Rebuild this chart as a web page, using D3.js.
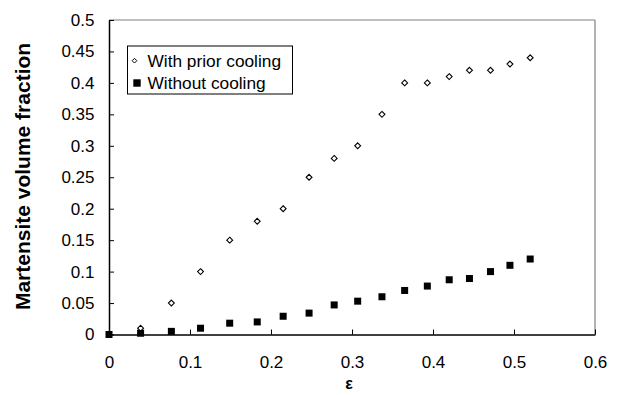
<!DOCTYPE html>
<html>
<head>
<meta charset="utf-8">
<script src="https://cdn.jsdelivr.net/npm/d3@7"></script>
<style>
  html, body { margin: 0; padding: 0; background: #fff; }
  svg { display: block; font-family: "Liberation Sans", Arial, Helvetica, sans-serif; }
</style>
</head>
<body>
<svg id="chart" width="620" height="395"></svg>
<script>
// ---- data ----
const strain = [0, 0.039, 0.077, 0.113, 0.149, 0.183, 0.215, 0.247, 0.278, 0.307, 0.337, 0.365, 0.393, 0.42, 0.445, 0.471, 0.495, 0.52];
const withPriorCooling = [0, 0.01, 0.05, 0.10, 0.15, 0.18, 0.20, 0.25, 0.28, 0.30, 0.35, 0.40, 0.40, 0.41, 0.42, 0.42, 0.43, 0.44];
const withoutCooling = [0, 0.002, 0.005, 0.01, 0.018, 0.02, 0.029, 0.034, 0.047, 0.053, 0.06, 0.07, 0.077, 0.087, 0.089, 0.10, 0.11, 0.12];
const xTicks = [0, 0.1, 0.2, 0.3, 0.4, 0.5, 0.6];
const yTicks = [0, 0.05, 0.1, 0.15, 0.2, 0.25, 0.3, 0.35, 0.4, 0.45, 0.5];
const seriesNames = ["With prior cooling", "Without cooling"];

// ---- layout ----
const svg = d3.select("#chart");
const m = { left: 109, top: 20, right: 595, bottom: 334.5 };
const x = d3.scaleLinear().domain([0, 0.6]).range([m.left, m.right]);
const y = d3.scaleLinear().domain([0, 0.5]).range([m.bottom, m.top]);

// frame: top & right grey
svg.append("line").attr("x1", m.left).attr("x2", m.right).attr("y1", m.top).attr("y2", m.top)
  .attr("stroke", "#808080").attr("stroke-width", 1.2);
svg.append("line").attr("x1", m.right).attr("x2", m.right).attr("y1", m.top).attr("y2", m.bottom)
  .attr("stroke", "#808080").attr("stroke-width", 1.2);

// axes
const fmt = d => d === 0 ? "0" : String(+d.toFixed(2));
const xAxis = svg.append("g").attr("transform", `translate(0,${m.bottom})`)
  .call(d3.axisBottom(x).tickValues(xTicks).tickFormat(fmt).tickSizeInner(-5).tickSizeOuter(0).tickPadding(21.5));
const yAxis = svg.append("g").attr("transform", `translate(${m.left},0)`)
  .call(d3.axisLeft(y).tickValues(yTicks).tickFormat(fmt).tickSizeInner(-5).tickSizeOuter(0).tickPadding(14.5));
[xAxis, yAxis].forEach(g => {
  g.select(".domain").attr("stroke", "#000").attr("stroke-width", 1.5);
  g.selectAll(".tick line").attr("stroke", "#000").attr("stroke-width", 1);
  g.selectAll(".tick text").attr("font-size", 17).attr("fill", "#000")
    .attr("font-family", "'Liberation Sans', Arial, sans-serif");
});

// titles
svg.append("text").attr("x", 349).attr("y", 388.5).attr("text-anchor", "middle")
  .attr("font-size", 16).attr("font-weight", "bold").text("ε");
svg.append("text").attr("transform", "translate(30,176.5) rotate(-90)").attr("text-anchor", "middle")
  .attr("font-size", 21).attr("font-weight", "bold").text("Martensite volume fraction");

// data marks
const sq = 7;
svg.append("g").selectAll("rect").data(strain.map((s, i) => [s, withoutCooling[i]])).join("rect")
  .attr("x", d => x(d[0]) - sq / 2).attr("y", d => y(d[1]) - sq / 2)
  .attr("width", sq).attr("height", sq).attr("fill", "#000");

const diamond = d3.symbol().type(d3.symbolDiamond2).size(22);
svg.append("g").selectAll("path").data(strain.map((s, i) => [s, withPriorCooling[i]]).filter(d => d[0] > 0)).join("path")
  .attr("transform", d => `translate(${x(d[0])},${y(d[1])})`)
  .attr("d", diamond).attr("fill", "#fff").attr("stroke", "#000").attr("stroke-width", 1.1);

// legend
const lg = svg.append("g");
lg.append("rect").attr("x", 127.5).attr("y", 46).attr("width", 165).attr("height", 48)
  .attr("fill", "#fff").attr("stroke", "#000").attr("stroke-width", 1);
lg.append("path").attr("transform", "translate(134.5,60.7)").attr("d", d3.symbol().type(d3.symbolDiamond2).size(14))
  .attr("fill", "#fff").attr("stroke", "#000").attr("stroke-width", 1);
lg.append("rect").attr("x", 133.3).attr("y", 79.3).attr("width", 7.4).attr("height", 7.4).attr("fill", "#000");
lg.selectAll("text.leg").data(seriesNames).join("text").attr("class", "leg")
  .attr("x", 147.5).attr("y", (d, i) => 66.7 + i * 22.3).attr("font-size", 17.3).text(d => d);
</script>
</body>
</html>
